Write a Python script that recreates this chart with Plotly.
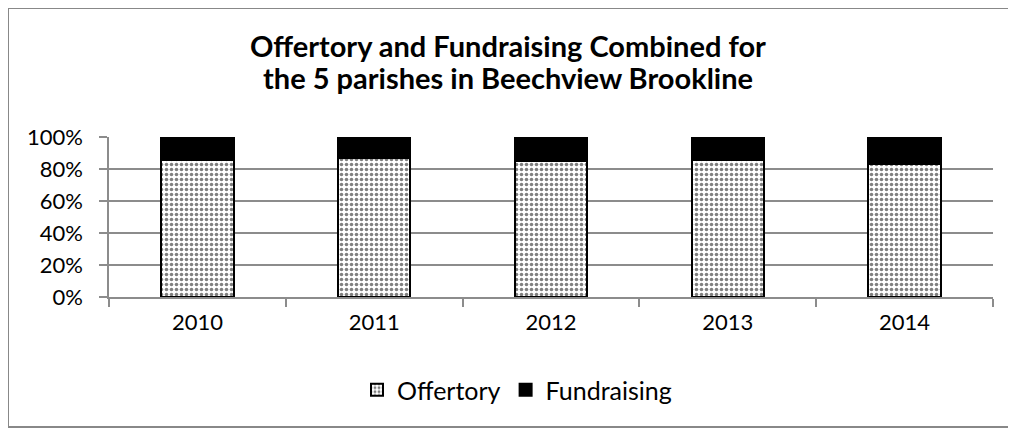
import plotly.graph_objects as go

years = ["2010", "2011", "2012", "2013", "2014"]
offertory = [85.6, 86.7, 85.2, 85.6, 82.9]
fundraising = [14.4, 13.3, 14.8, 14.4, 17.1]
y_ticks = [0, 20, 40, 60, 80, 100]
y_tick_labels = ["0%", "20%", "40%", "60%", "80%", "100%"]
title_lines = ["Offertory and Fundraising Combined for", "the 5 parishes in Beechview Brookline"]

FONT = "Lato"
GRID = "#8c8c8c"

# plot area in figure pixels
L, R, T, B = 101, 985, 129, 289
W, H = 1016, 428
PW, PH = R - L, B - T


def px(fx):
    return (fx - L) / PW


def py(fy):
    return (B - fy) / PH


fig = go.Figure()
fig.add_trace(go.Bar(
    x=years, y=offertory, name="Offertory",
    marker=dict(color="white",
                pattern=dict(shape=".", fgcolor="black", bgcolor="white", size=5, solidity=0.4),
                line=dict(color="black", width=2)),
))
fig.add_trace(go.Bar(
    x=years, y=fundraising, name="Fundraising",
    marker=dict(color="black", line=dict(color="black", width=2)),
))

annotations = [
    dict(text="<b>%s</b>" % title_lines[0], xref="paper", yref="paper", x=px(500), y=py(37),
         xanchor="center", yanchor="middle", showarrow=False, font=dict(family=FONT, size=29, color="black")),
    dict(text="<b>%s</b>" % title_lines[1], xref="paper", yref="paper", x=px(500), y=py(69),
         xanchor="center", yanchor="middle", showarrow=False, font=dict(family=FONT, size=29, color="black")),
]

fig.update_layout(
    barmode="stack",
    bargap=0.59,
    width=W, height=H,
    margin=dict(l=L, r=W - R, t=T, b=H - B),
    paper_bgcolor="white", plot_bgcolor="white",
    font=dict(family=FONT, size=22, color="black"),
    showlegend=True,
    legend=dict(orientation="h", x=px(509), xanchor="center", y=py(382), yanchor="middle",
                font=dict(family=FONT, size=25), traceorder="normal", itemwidth=30),
    annotations=annotations,
    shapes=[dict(type="rect", xref="paper", yref="paper", x0=px(0), x1=px(1012), y0=py(419), y1=py(0),
                 line=dict(color="#888888", width=2), fillcolor="rgba(0,0,0,0)", layer="below")],
)
fig.update_xaxes(showline=True, linecolor=GRID, linewidth=1.5, ticks="outside", tickson="boundaries",
                 ticklen=8, tickcolor=GRID, tickwidth=1.5, showgrid=False, tickfont=dict(size=22),
                 ticklabelstandoff=5)
fig.update_yaxes(range=[0, 100], tickvals=y_ticks, ticktext=y_tick_labels, showline=True, linecolor=GRID,
                 linewidth=1.5, ticks="outside", ticklen=8, tickcolor=GRID, tickwidth=1.5,
                 showgrid=True, gridcolor=GRID, gridwidth=1.5, zeroline=False, tickfont=dict(size=22),
                 ticklabelstandoff=12)

fig.write_html("out.html")
